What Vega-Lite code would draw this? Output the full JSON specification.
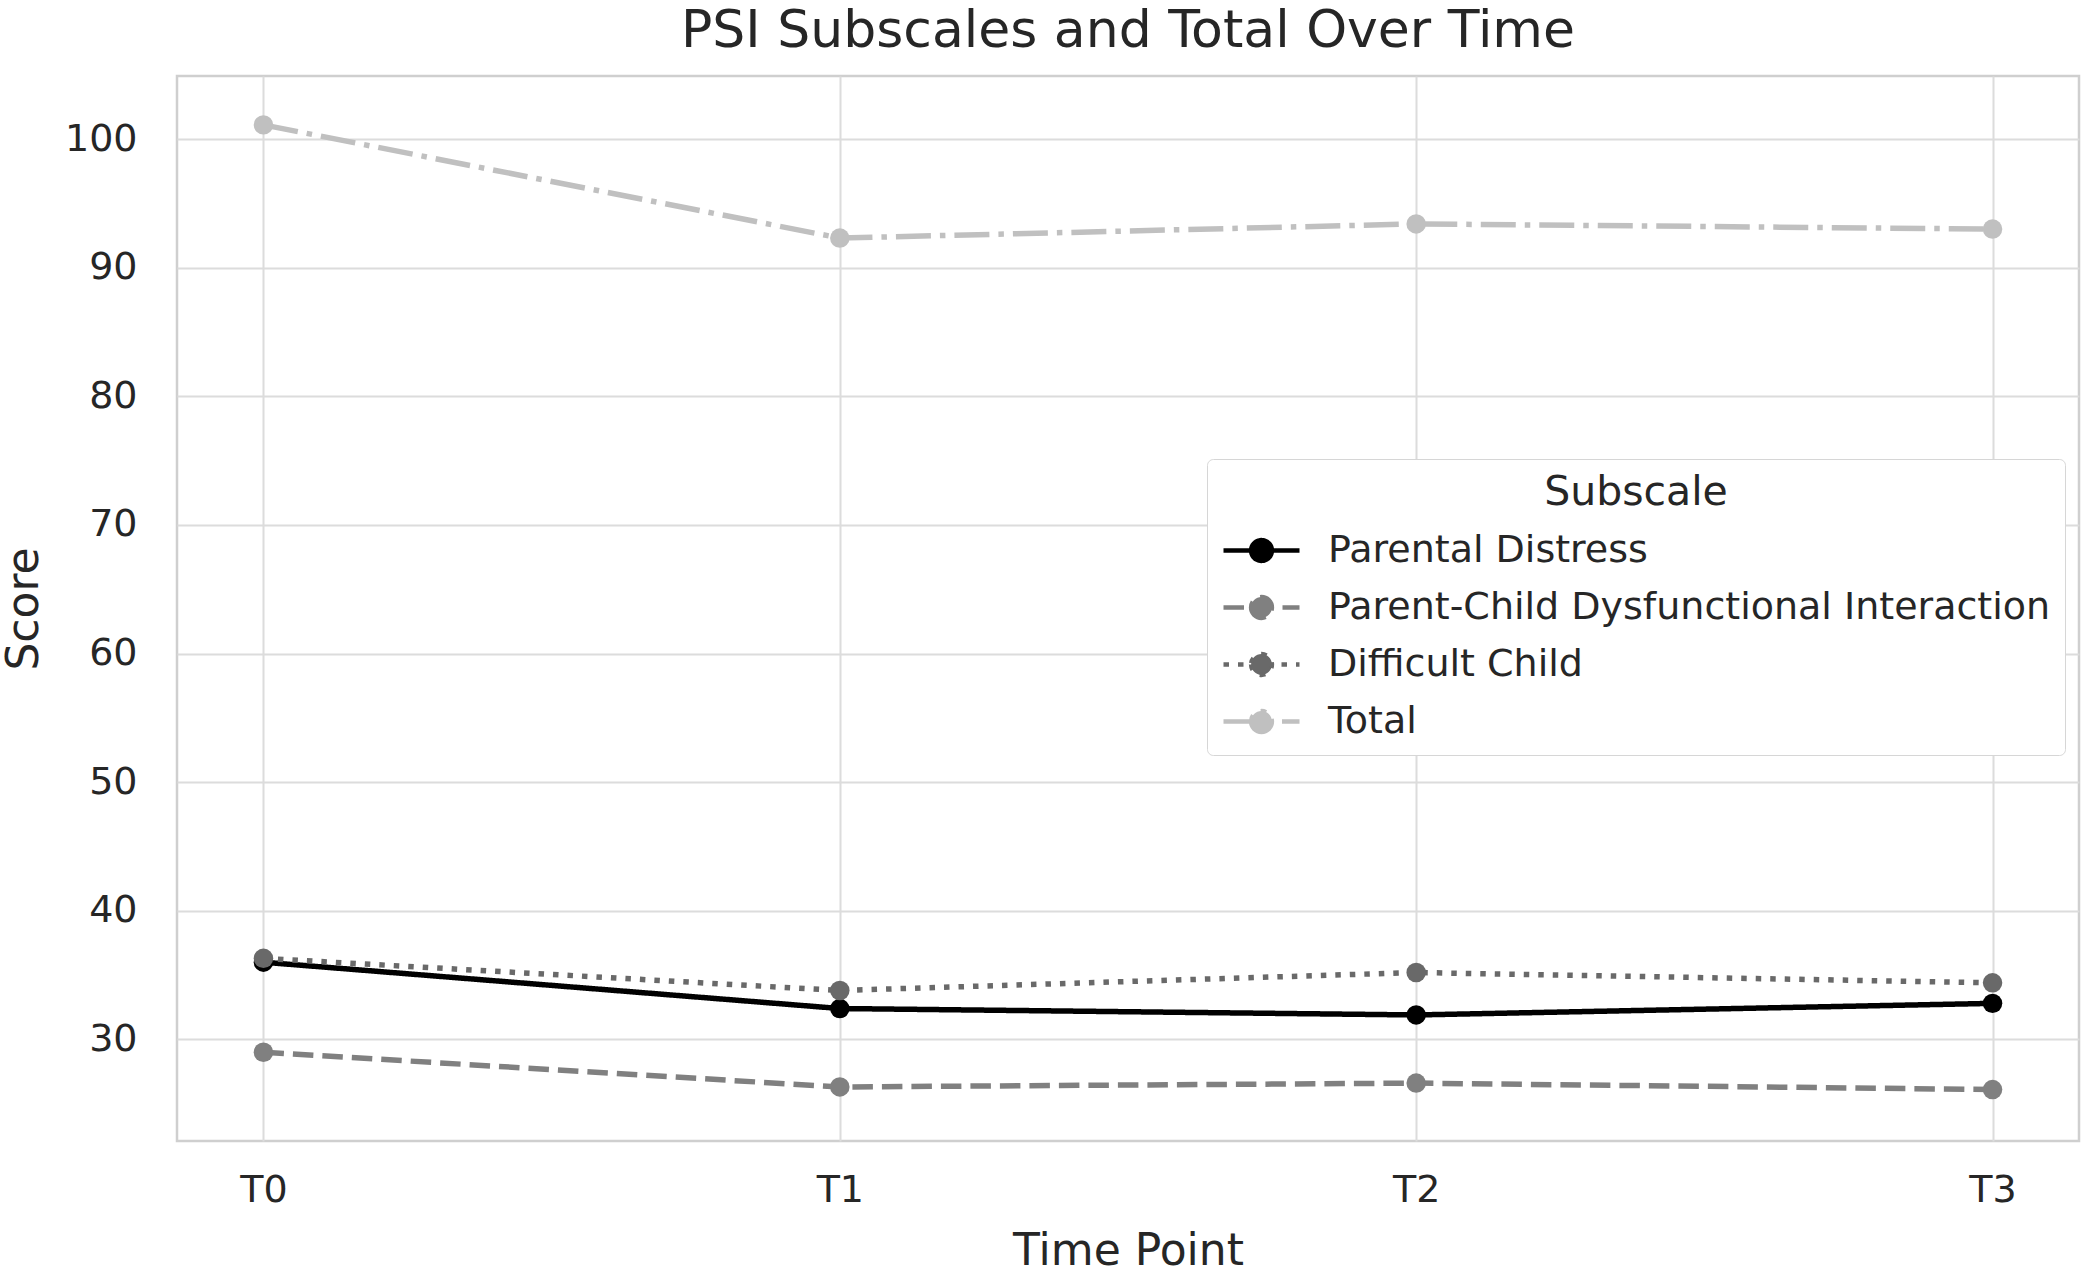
{
  "$schema": "https://vega.github.io/schema/vega-lite/v6.json",
  "autosize": {"type": "none"},
  "padding": {"left": 177, "top": 76, "right": 13, "bottom": 129},
  "width": 1902,
  "height": 1065,
  "background": "white",
  "config": {
    "font": "DejaVu Sans",
    "view": {"stroke": "#cfcfcf", "strokeWidth": 2.5},
    "axis": {
      "grid": true, "gridColor": "#dcdcdc", "gridWidth": 2,
      "domain": false, "ticks": false,
      "labelFont": "DejaVu Sans", "labelFontSize": 38, "labelColor": "#262626",
      "titleFont": "DejaVu Sans", "titleFontSize": 44, "titleFontWeight": "normal", "titleColor": "#262626"
    }
  },
  "title": {
    "text": "PSI Subscales and Total Over Time",
    "font": "DejaVu Sans", "fontSize": 52, "fontWeight": "normal", "color": "#262626",
    "anchor": "middle", "offset": 18
  },
  "data": {
    "values": [
      {"Time": "T0", "Subscale": "Parental Distress", "Score": 36.0},
      {"Time": "T1", "Subscale": "Parental Distress", "Score": 32.4},
      {"Time": "T2", "Subscale": "Parental Distress", "Score": 31.9},
      {"Time": "T3", "Subscale": "Parental Distress", "Score": 32.8},
      {"Time": "T0", "Subscale": "Parent-Child Dysfunctional Interaction", "Score": 29.0},
      {"Time": "T1", "Subscale": "Parent-Child Dysfunctional Interaction", "Score": 26.3},
      {"Time": "T2", "Subscale": "Parent-Child Dysfunctional Interaction", "Score": 26.6},
      {"Time": "T3", "Subscale": "Parent-Child Dysfunctional Interaction", "Score": 26.1},
      {"Time": "T0", "Subscale": "Difficult Child", "Score": 36.3},
      {"Time": "T1", "Subscale": "Difficult Child", "Score": 33.8},
      {"Time": "T2", "Subscale": "Difficult Child", "Score": 35.2},
      {"Time": "T3", "Subscale": "Difficult Child", "Score": 34.4},
      {"Time": "T0", "Subscale": "Total", "Score": 101.1},
      {"Time": "T1", "Subscale": "Total", "Score": 92.3},
      {"Time": "T2", "Subscale": "Total", "Score": 93.4},
      {"Time": "T3", "Subscale": "Total", "Score": 93.0}
    ]
  },
  "mark": {"type": "line", "strokeWidth": 5.5, "point": {"filled": true, "size": 380, "opacity": 1}},
  "encoding": {
    "x": {
      "field": "Time", "type": "ordinal", "title": "Time Point",
      "scale": {"type": "point", "padding": 0.15},
      "axis": {"labelAngle": 0, "labelPadding": 30, "titlePadding": 20}
    },
    "y": {
      "field": "Score", "type": "quantitative", "title": "Score",
      "scale": {"domain": [22.1, 104.9], "nice": false, "zero": false},
      "axis": {"values": [30, 40, 50, 60, 70, 80, 90, 100], "labelPadding": 40, "titlePadding": 18}
    },
    "color": {
      "field": "Subscale", "type": "nominal",
      "scale": {
        "domain": ["Parental Distress", "Parent-Child Dysfunctional Interaction", "Difficult Child", "Total"],
        "range": ["#000000", "#808080", "#696969", "#c0c0c0"]
      },
      "legend": {
        "orient": "none", "legendX": 1030, "legendY": 383,
        "title": "Subscale", "titleFont": "DejaVu Sans", "titleFontSize": 41, "titleFontWeight": "normal",
        "titleColor": "#262626", "titleAnchor": "middle", "titlePadding": 14, "titleLimit": 0,
        "labelFont": "DejaVu Sans", "labelFontSize": 38, "labelColor": "#262626", "labelOffset": 44, "labelLimit": 0,
        "symbolType": "M-1.9,0H1.9M-0.52,0A0.52,0.52 0 1,0 0.52,0A0.52,0.52 0 1,0 -0.52,0",
        "symbolSize": 1600, "symbolStrokeWidth": 4.5, "symbolOffset": 18, "rowPadding": 15,
        "padding": 14, "fillColor": "white", "strokeColor": "#d6d6d6", "cornerRadius": 6,
        "encode": {"symbols": {"update": {"fill": {"scale": "color", "field": "value"}}}}
      }
    },
    "strokeDash": {
      "field": "Subscale", "type": "nominal",
      "scale": {
        "domain": ["Parental Distress", "Parent-Child Dysfunctional Interaction", "Difficult Child", "Total"],
        "range": [[1, 0], [20.5, 9], [5.5, 9], [35, 9, 5.5, 9]]
      },
      "legend": null
    }
  }
}
